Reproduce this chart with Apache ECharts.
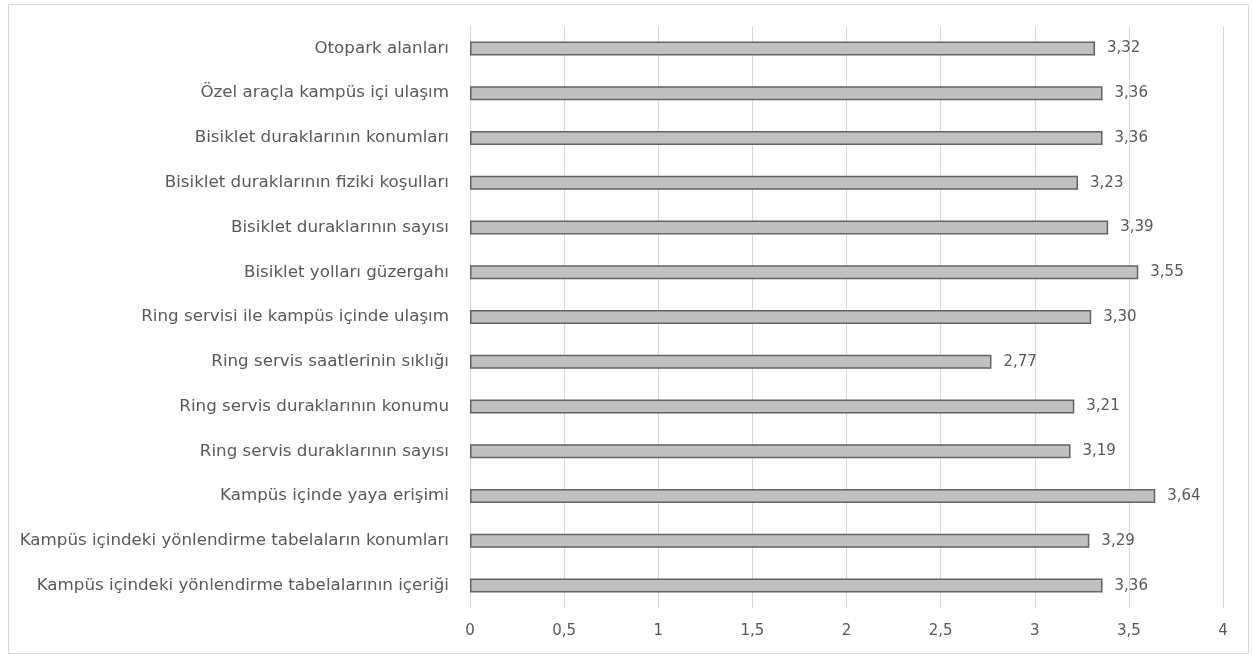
<!DOCTYPE html>
<html><head><meta charset="utf-8">
<script src="https://cdn.jsdelivr.net/npm/echarts@6/dist/echarts.min.js"></script>
<style>html,body{margin:0;padding:0;background:#fff}#c{width:1252px;height:657px}</style>
</head><body><div id="c"></div>
<script>
// categories from top to bottom
const categories = [
  "Otopark alanları",
  "Özel araçla kampüs içi ulaşım",
  "Bisiklet duraklarının konumları",
  "Bisiklet duraklarının fiziki koşulları",
  "Bisiklet duraklarının sayısı",
  "Bisiklet yolları güzergahı",
  "Ring servisi ile kampüs içinde ulaşım",
  "Ring servis saatlerinin sıklığı",
  "Ring servis duraklarının konumu",
  "Ring servis duraklarının sayısı",
  "Kampüs içinde yaya erişimi",
  "Kampüs içindeki yönlendirme tabelaların konumları",
  "Kampüs içindeki yönlendirme tabelalarının içeriği"
];
const values = [3.32, 3.36, 3.36, 3.23, 3.39, 3.55, 3.30, 2.77, 3.21, 3.19, 3.64, 3.29, 3.36];
const xTicks = [0, 0.5, 1, 1.5, 2, 2.5, 3, 3.5, 4];

const fmt = v => String(v).replace('.', ',');
const chart = echarts.init(document.getElementById('c'), null, {renderer: 'canvas'});
const txt = '#595959';
const font = '"DejaVu Sans", sans-serif';
chart.setOption({
  animation: false,
  textStyle: {fontFamily: font},
  graphic: [{
    type: 'rect', shape: {x: 8.5, y: 4.5, width: 1240, height: 649},
    style: {fill: 'none', stroke: '#d9d9d9', lineWidth: 1}, z: -1
  }],
  grid: {left: 470, right: 29, top: 26, bottom: 49, containLabel: false},
  xAxis: {
    type: 'value', min: xTicks[0], max: xTicks[xTicks.length - 1], interval: 0.5,
    axisLine: {show: false}, axisTick: {show: false},
    splitLine: {show: true, lineStyle: {color: '#d9d9d9', width: 1}},
    axisLabel: {color: txt, fontSize: 15, margin: 16, fontFamily: font,
      formatter: v => fmt(v)}
  },
  yAxis: {
    type: 'category', data: categories, inverse: true,
    axisLine: {show: true, lineStyle: {color: '#d9d9d9'}}, axisTick: {show: false},
    axisLabel: {color: txt, fontSize: 16.7, margin: 21, fontFamily: font}
  },
  series: [{
    type: 'bar', data: values, barWidth: 14,
    itemStyle: {color: '#c0c0c0', borderColor: '#636363', borderWidth: 1.5},
    label: {show: true, position: 'right', distance: 12, color: txt, fontSize: 15,
      fontFamily: font, formatter: p => p.value.toFixed(2).replace('.', ',')}
  }]
});
</script></body></html>
